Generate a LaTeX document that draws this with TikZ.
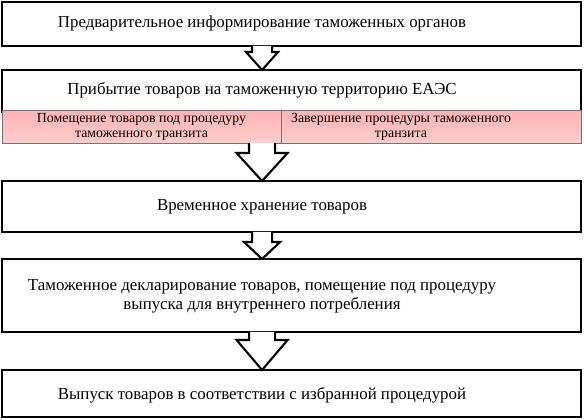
\documentclass[tikz,border=0pt]{standalone}
\usepackage{fontspec}
\setmainfont{Liberation Serif}
\usetikzlibrary{calc,positioning}

\tikzset{
  blk/.style={draw=black, line width=1.6pt, fill=white, inner sep=0pt, outer sep=0pt, minimum width=11.58cm},
  sub/.style={draw=black!55, line width=0.5pt, top color=red!30, middle color=red!7, bottom color=red!20, inner sep=0pt, outer sep=0pt, minimum height=0.66cm},
  txt/.style={font=\rmfamily\fontsize{9.6}{11}\selectfont, align=center, inner sep=0pt},
  stxt/.style={font=\rmfamily\fontsize{7.9}{8.6}\selectfont, align=center, inner sep=0pt},
  arr/.style={draw=black, line width=1.2pt, fill=white, line join=miter}
}

% block arrow: from, to, shaft half width, head half width, head length
\newcommand{\blkarrow}[5]{%
  \filldraw[arr] ($(#1.south west)+(260-#3,0)$) -- ($(#2.north west)+(260-#3,-#5)$)
    -- ($(#2.north west)+(260-#4,-#5)$) -- ($(#2.north west)+(260,0)$)
    -- ($(#2.north west)+(260+#4,-#5)$) -- ($(#2.north west)+(260+#3,-#5)$)
    -- ($(#1.south west)+(260+#3,0)$);
}

\begin{document}
\begin{tikzpicture}[x=0.02cm, y=-0.02cm]
  \useasboundingbox (0,0) rectangle (584,419);

  % boxes
  \node[blk, minimum height=0.88cm] (info) at (291.5,24) {};
  \node[blk, minimum height=0.84cm] (arriv) at (291.5,91) {};
  \node[sub, minimum width=5.58cm] (put) at (141.5,126.5) {};
  \node[sub, minimum width=6cm] (end) at (431,126.5) {};
  \node[blk, minimum height=1.02cm] (store) at (291.5,206.5) {};
  \node[blk, minimum height=1.46cm] (decl) at (291.5,295.5) {};
  \node[blk, minimum height=0.94cm] (rel) at (291.5,393.5) {};

  % texts
  \node[txt] (info-t) at (262,23) {Предварительное информирование таможенных органов};
  \node[txt] (arriv-t) at (262,90) {Прибытие товаров на таможенную территорию ЕАЭС};
  \node[stxt] (put-t) at (141.5,127) {Помещение товаров под процедуру\\таможенного транзита};
  \node[stxt] (end-t) at (401,127) {Завершение процедуры таможенного\\транзита};
  \node[txt] (store-t) at (262,207) {Временное хранение товаров};
  \node[txt] (decl-t) at (262,296) {Таможенное декларирование товаров, помещение под процедуру\\выпуска для внутреннего потребления};
  \node[txt] (rel-t) at (262,395) {Выпуск товаров в соответствии с избранной процедурой};

  % arrows
  \blkarrow{info}{arriv}{10}{16}{18}
  \blkarrow{put}{store}{13}{25.5}{28}
  \blkarrow{store}{decl}{10}{18}{17}
  \blkarrow{decl}{rel}{13}{25.5}{30}
\end{tikzpicture}
\end{document}
